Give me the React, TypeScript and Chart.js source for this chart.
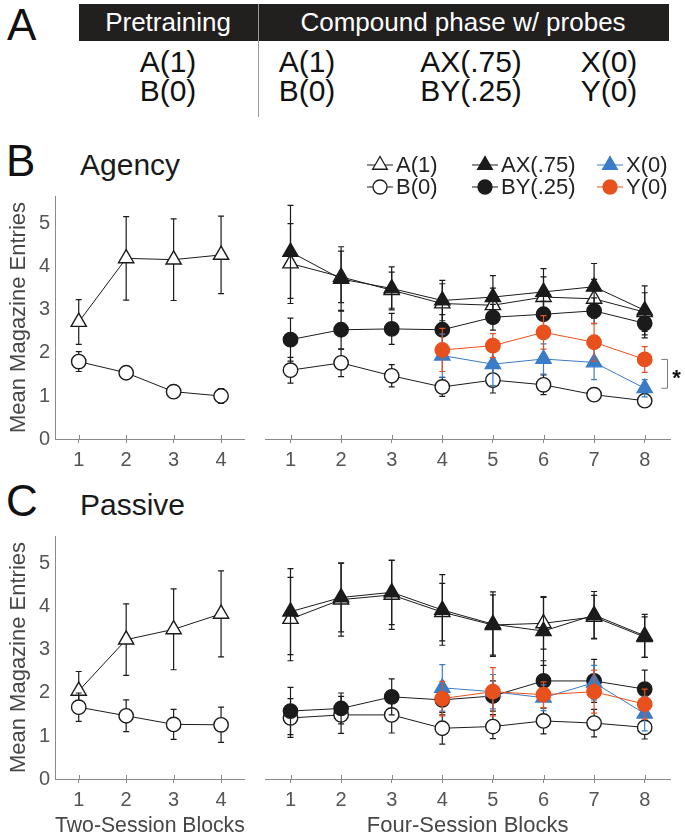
import React, { useEffect, useRef } from "react";
import { Chart, registerables } from "chart.js";

Chart.register(...registerables);

const FONT = "'Liberation Sans', Arial, Helvetica, sans-serif";
Chart.defaults.font.family = FONT;

// ---------------- data ----------------
const twoSessionBlocks = [1, 2, 3, 4];
const fourSessionBlocks = [1, 2, 3, 4, 5, 6, 7, 8];
const probeBlocks = [4, 5, 6, 7, 8];
const yTickValues = [0, 1, 2, 3, 4, 5];
const yAxisMax = 5.65;

// Agency - pretraining (two-session blocks)
const agencyPretrainA = [2.72, 4.2, 4.17, 4.28];
const agencyPretrainAErr = [0.52, 0.97, 0.95, 0.9];
const agencyPretrainB = [1.8, 1.54, 1.1, 1.0];
const agencyPretrainBErr = [0.23, 0.08, 0.08, 0.17];

// Agency - compound phase (four-session blocks)
const agencyA = [4.08, 3.77, 3.46, 3.15, 3.11, 3.3, 3.26, 2.95];
const agencyAErr = [0.93, 0.6, 0.42, 0.46, 0.4, 0.47, 0.45, 0.45];
const agencyAX = [4.35, 3.72, 3.5, 3.22, 3.3, 3.42, 3.54, 2.99];
const agencyAXErr = [1.08, 0.75, 0.5, 0.47, 0.5, 0.54, 0.54, 0.57];
const agencyB = [1.6, 1.77, 1.47, 1.21, 1.37, 1.26, 1.03, 0.89];
const agencyBErr = [0.3, 0.32, 0.26, 0.22, 0.3, 0.23, 0.15, 0.1];
const agencyBY = [2.31, 2.54, 2.56, 2.54, 2.83, 2.9, 2.98, 2.69];
const agencyBYErr = [0.5, 0.45, 0.36, 0.35, 0.3, 0.3, 0.3, 0.34];
const agencyX = [1.94, 1.74, 1.86, 1.78, 1.18];
const agencyXErr = [0.5, 0.5, 0.35, 0.4, 0.2];
const agencyY = [2.07, 2.17, 2.48, 2.25, 1.85];
const agencyYErr = [0.5, 0.28, 0.39, 0.44, 0.3];

// Passive - pretraining
const passivePretrainA = [2.05, 3.24, 3.48, 3.84];
const passivePretrainAErr = [0.45, 0.83, 0.94, 1.0];
const passivePretrainB = [1.67, 1.47, 1.27, 1.26];
const passivePretrainBErr = [0.33, 0.37, 0.35, 0.41];

// Passive - compound phase
const passiveA = [3.72, 4.17, 4.28, 3.88, 3.58, 3.62, 3.77, 3.3];
const passiveAErr = [0.97, 0.85, 0.8, 0.67, 0.7, 0.6, 0.5, 0.47];
const passiveAX = [3.89, 4.22, 4.34, 3.93, 3.6, 3.44, 3.81, 3.33];
const passiveAXErr = [1.0, 0.8, 0.75, 0.82, 0.75, 0.8, 0.55, 0.5];
const passiveB = [1.42, 1.49, 1.49, 1.18, 1.22, 1.35, 1.3, 1.2];
const passiveBErr = [0.45, 0.43, 0.42, 0.37, 0.28, 0.3, 0.32, 0.27];
const passiveBY = [1.58, 1.64, 1.91, 1.84, 1.93, 2.28, 2.28, 2.09];
const passiveBYErr = [0.55, 0.36, 0.42, 0.35, 0.35, 0.47, 0.5, 0.44];
const passiveX = [2.12, 2.03, 1.89, 2.24, 1.52];
const passiveXErr = [0.54, 0.4, 0.3, 0.4, 0.4];
const passiveY = [1.87, 2.03, 1.96, 2.03, 1.74];
const passiveYErr = [0.4, 0.56, 0.3, 0.5, 0.35];

const legendRows = [
  ["A(1)", "AX(.75)", "X(0)"],
  ["B(0)", "BY(.25)", "Y(0)"],
];

const tableHeaders = ["Pretraining", "Compound phase w/ probes"];
const tableRow1 = ["A(1)", "A(1)", "AX(.75)", "X(0)"];
const tableRow2 = ["B(0)", "B(0)", "BY(.25)", "Y(0)"];

// ---------------- styles ----------------
const BLACK = "#1b1b1b";
const BLUE = "#3a7cc7";
const ORANGE = "#e8501d";
const AXIS = "#8a8a8a";
const TICK = "#555555";
const TITLE = "#474747";

const seriesStyles: Record<string, any> = {
  "A(1)": { shape: "triangle", fill: "#ffffff", stroke: BLACK },
  "B(0)": { shape: "circle", fill: "#ffffff", stroke: BLACK },
  "AX(.75)": { shape: "triangle", fill: BLACK, stroke: BLACK },
  "BY(.25)": { shape: "circle", fill: BLACK, stroke: BLACK },
  "X(0)": { shape: "triangle", fill: BLUE, stroke: BLUE },
  "Y(0)": { shape: "circle", fill: ORANGE, stroke: ORANGE },
};

function series(label: string, xs: number[], ys: number[], errs: number[], drawIndex: number) {
  const s = seriesStyles[label];
  return {
    label,
    data: xs.map((x, i) => ({ x, y: ys[i] })),
    errors: errs,
    borderColor: s.stroke,
    backgroundColor: s.fill,
    borderWidth: 1,
    pointStyle: s.shape,
    pointRadius: s.shape === "triangle" ? 8.8 : 7.2,
    pointBackgroundColor: s.fill,
    pointBorderColor: s.stroke,
    pointBorderWidth: 1.4,
    tension: 0,
    order: 10 - drawIndex,
    clip: false,
  };
}

function drawMarker(ctx: CanvasRenderingContext2D, shape: string, x: number, y: number, r: number, fill: string, stroke: string) {
  ctx.beginPath();
  if (shape === "triangle") {
    ctx.moveTo(x, y - r);
    ctx.lineTo(x + r * 0.866, y + r / 2);
    ctx.lineTo(x - r * 0.866, y + r / 2);
    ctx.closePath();
  } else {
    ctx.arc(x, y, r, 0, Math.PI * 2);
  }
  ctx.fillStyle = fill;
  ctx.fill();
  ctx.lineWidth = 1.3;
  ctx.strokeStyle = stroke;
  ctx.stroke();
}

const errorBarPlugin = {
  id: "errorBars",
  beforeDatasetDraw(chart: any, args: any) {
    const ds = chart.data.datasets[args.index];
    if (!ds.errors) return;
    const yScale = chart.scales.y;
    const ctx = chart.ctx;
    ctx.save();
    ctx.strokeStyle = ds.borderColor;
    ctx.lineWidth = 1.2;
    args.meta.data.forEach((pt: any, i: number) => {
      const v = ds.data[i].y;
      const e = ds.errors[i];
      const top = yScale.getPixelForValue(v + e);
      const bot = yScale.getPixelForValue(v - e);
      const x = pt.x;
      ctx.beginPath();
      ctx.moveTo(x, top);
      ctx.lineTo(x, bot);
      ctx.moveTo(x - 3, top);
      ctx.lineTo(x + 3, top);
      ctx.moveTo(x - 3, bot);
      ctx.lineTo(x + 3, bot);
      ctx.stroke();
    });
    ctx.restore();
  },
};

const innerTickPlugin = {
  id: "innerTicks",
  beforeDatasetsDraw(chart: any) {
    const xs = chart.scales.x;
    const ctx = chart.ctx;
    ctx.save();
    ctx.strokeStyle = AXIS;
    ctx.lineWidth = 1;
    xs.ticks.forEach((t: any) => {
      const px = Math.round(xs.getPixelForValue(t.value)) + 0.5;
      ctx.beginPath();
      ctx.moveTo(px, xs.top);
      ctx.lineTo(px, xs.top - 4);
      ctx.stroke();
    });
    ctx.restore();
  },
};

function makeLegendPlugin(rows: string[][], colX: number[], rowY: number[]) {
  return {
    id: "rowLegend",
    afterDraw(chart: any) {
      const ctx = chart.ctx;
      ctx.save();
      rows.forEach((row, r) =>
        row.forEach((label, c) => {
          const ds = chart.data.datasets.find((d: any) => d.label === label);
          if (!ds) return;
          const x0 = colX[c];
          const y = rowY[r];
          const len = 26;
          ctx.strokeStyle = ds.borderColor;
          ctx.lineWidth = 1;
          ctx.beginPath();
          ctx.moveTo(x0, y);
          ctx.lineTo(x0 + len, y);
          ctx.stroke();
          drawMarker(ctx, ds.pointStyle, x0 + len / 2, y, ds.pointStyle === "triangle" ? 8.5 : 7, ds.pointBackgroundColor, ds.pointBorderColor);
          ctx.fillStyle = "#222222";
          ctx.font = `22px ${FONT}`;
          ctx.textBaseline = "middle";
          ctx.textAlign = "left";
          ctx.fillText(label, x0 + len + 3, y + 1);
        })
      );
      ctx.restore();
    },
  };
}

function makeBracketPlugin(upperLabel: string, lowerLabel: string) {
  return {
    id: "sigBracket",
    afterDatasetsDraw(chart: any) {
      const up = chart.data.datasets.find((d: any) => d.label === upperLabel);
      const lo = chart.data.datasets.find((d: any) => d.label === lowerLabel);
      if (!up || !lo) return;
      const xs = chart.scales.x;
      const ys = chart.scales.y;
      const pu = up.data[up.data.length - 1];
      const pl = lo.data[lo.data.length - 1];
      const x = Math.round(xs.getPixelForValue(pu.x) + 22) + 0.5;
      const y1 = ys.getPixelForValue(pu.y);
      const y2 = ys.getPixelForValue(pl.y);
      const ctx = chart.ctx;
      ctx.save();
      ctx.strokeStyle = "#777777";
      ctx.lineWidth = 1;
      ctx.beginPath();
      ctx.moveTo(x - 6, y1);
      ctx.lineTo(x, y1);
      ctx.lineTo(x, y2);
      ctx.lineTo(x - 6, y2);
      ctx.stroke();
      ctx.fillStyle = "#111111";
      ctx.font = `bold 22px ${FONT}`;
      ctx.textAlign = "center";
      ctx.textBaseline = "middle";
      ctx.fillText("*", x + 9, (y1 + y2) / 2 + 5);
      ctx.restore();
    },
  };
}

function makeConfig(opts: {
  datasets: any[];
  blocks: number[];
  isLeft: boolean;
  xTitle?: string;
  xAxisHeight: number;
  extraPlugins?: any[];
}) {
  const { datasets, blocks, isLeft, xTitle, xAxisHeight, extraPlugins = [] } = opts;
  return {
    type: "line",
    data: { datasets },
    options: {
      animation: false,
      responsive: false,
      devicePixelRatio: 1,
      events: [],
      layout: { padding: { top: 56, bottom: 0, left: isLeft ? 0 : 8, right: isLeft ? 5 : 15 } },
      plugins: { legend: { display: false }, tooltip: { enabled: false } },
      scales: {
        x: {
          type: "linear",
          min: 0.5,
          max: blocks.length + 0.5,
          afterBuildTicks: (s: any) => {
            s.ticks = blocks.map((v) => ({ value: v }));
          },
          afterFit: (s: any) => {
            s.height = xAxisHeight;
          },
          grid: { display: true, drawOnChartArea: false, drawTicks: true, tickLength: 4, color: AXIS, lineWidth: 1 },
          border: { display: true, color: AXIS, width: 1 },
          ticks: { font: { size: 20 }, color: TICK, padding: 5, autoSkip: false, maxRotation: 0, callback: (v: any) => String(v) },
          title: xTitle
            ? { display: true, text: xTitle, font: { size: 22 }, color: TITLE, padding: 0 }
            : { display: false },
        },
        y: {
          type: "linear",
          display: isLeft,
          min: 0,
          max: yAxisMax,
          afterBuildTicks: (s: any) => {
            s.ticks = yTickValues.map((v) => ({ value: v }));
          },
          afterFit: (s: any) => {
            s.width = isLeft ? 55 : 0;
          },
          grid: { display: false, drawTicks: false },
          border: { display: true, color: AXIS, width: 1 },
          ticks: { font: { size: 20 }, color: TICK, padding: 5 },
          title: { display: isLeft, text: "Mean Magazine Entries", font: { size: 22 }, color: TITLE, padding: { top: 6, bottom: 0 } },
        },
      },
    },
    plugins: [errorBarPlugin, innerTickPlugin, ...extraPlugins],
  };
}

function ChartCanvas(props: { left: number; top: number; width: number; height: number; build: () => any }) {
  const ref = useRef<HTMLCanvasElement | null>(null);
  useEffect(() => {
    if (!ref.current) return;
    const chart = new Chart(ref.current, props.build());
    return () => chart.destroy();
  }, []);
  return (
    <canvas
      ref={ref}
      width={props.width}
      height={props.height}
      style={{ position: "absolute", left: props.left, top: props.top, width: props.width, height: props.height }}
    />
  );
}

function Txt(props: { x: number; base: number; size: number; align?: "left" | "center"; color?: string; weight?: string; children: any }) {
  const { x, base, size, align = "left", color = "#111", weight = "normal" } = props;
  return (
    <div
      style={{
        position: "absolute",
        left: x,
        top: base - 0.847 * size,
        fontSize: size,
        lineHeight: 1,
        fontFamily: FONT,
        color,
        fontWeight: weight as any,
        whiteSpace: "nowrap",
        transform: align === "center" ? "translateX(-50%)" : undefined,
      }}
    >
      {props.children}
    </div>
  );
}

const tableCols = [168, 307, 471, 609];

export default function App() {
  const legendPlugin = makeLegendPlugin(legendRows, [112, 217, 342], [25, 47]);
  const bracketPlugin = makeBracketPlugin("Y(0)", "X(0)");

  return (
    <div style={{ position: "absolute", left: 0, top: 0, width: 685, height: 840, background: "#fff", overflow: "hidden", fontFamily: FONT }}>
      {/* Panel A table */}
      <Txt x={7} base={40} size={44}>A</Txt>
      <div style={{ position: "absolute", left: 79, top: 4, width: 590, height: 37, background: "#221f1f" }} />
      <div style={{ position: "absolute", left: 258, top: 4, width: 1, height: 113, background: "#9a9a9a" }} />
      <Txt x={168} base={31} size={26} align="center" color="#ffffff">{tableHeaders[0]}</Txt>
      <Txt x={463} base={31} size={26} align="center" color="#ffffff">{tableHeaders[1]}</Txt>
      {tableRow1.map((t, i) => (
        <Txt key={"r1" + i} x={tableCols[i]} base={72} size={30} align="center">{t}</Txt>
      ))}
      {tableRow2.map((t, i) => (
        <Txt key={"r2" + i} x={tableCols[i]} base={101} size={30} align="center">{t}</Txt>
      ))}

      {/* Panel labels */}
      <Txt x={6} base={176} size={44}>B</Txt>
      <Txt x={80} base={175} size={30} color="#1a1a1a">Agency</Txt>
      <Txt x={6} base={516} size={44}>C</Txt>
      <Txt x={80} base={515} size={30} color="#1a1a1a">Passive</Txt>

      <ChartCanvas
        left={0}
        top={140}
        width={255}
        height={339}
        build={() =>
          makeConfig({
            isLeft: true,
            blocks: twoSessionBlocks,
            xAxisHeight: 40,
            datasets: [
              series("A(1)", twoSessionBlocks, agencyPretrainA, agencyPretrainAErr, 0),
              series("B(0)", twoSessionBlocks, agencyPretrainB, agencyPretrainBErr, 1),
            ],
          })
        }
      />
      <ChartCanvas
        left={255}
        top={140}
        width={430}
        height={339}
        build={() =>
          makeConfig({
            isLeft: false,
            blocks: fourSessionBlocks,
            xAxisHeight: 40,
            extraPlugins: [legendPlugin, bracketPlugin],
            datasets: [
              series("A(1)", fourSessionBlocks, agencyA, agencyAErr, 0),
              series("B(0)", fourSessionBlocks, agencyB, agencyBErr, 1),
              series("AX(.75)", fourSessionBlocks, agencyAX, agencyAXErr, 2),
              series("BY(.25)", fourSessionBlocks, agencyBY, agencyBYErr, 3),
              series("X(0)", probeBlocks, agencyX, agencyXErr, 4),
              series("Y(0)", probeBlocks, agencyY, agencyYErr, 5),
            ],
          })
        }
      />
      <ChartCanvas
        left={0}
        top={480}
        width={255}
        height={359}
        build={() =>
          makeConfig({
            isLeft: true,
            blocks: twoSessionBlocks,
            xAxisHeight: 60,
            xTitle: "Two-Session Blocks",
            datasets: [
              series("A(1)", twoSessionBlocks, passivePretrainA, passivePretrainAErr, 0),
              series("B(0)", twoSessionBlocks, passivePretrainB, passivePretrainBErr, 1),
            ],
          })
        }
      />
      <ChartCanvas
        left={255}
        top={480}
        width={430}
        height={359}
        build={() =>
          makeConfig({
            isLeft: false,
            blocks: fourSessionBlocks,
            xAxisHeight: 60,
            xTitle: "Four-Session Blocks",
            datasets: [
              series("A(1)", fourSessionBlocks, passiveA, passiveAErr, 0),
              series("B(0)", fourSessionBlocks, passiveB, passiveBErr, 1),
              series("AX(.75)", fourSessionBlocks, passiveAX, passiveAXErr, 2),
              series("BY(.25)", fourSessionBlocks, passiveBY, passiveBYErr, 3),
              series("X(0)", probeBlocks, passiveX, passiveXErr, 4),
              series("Y(0)", probeBlocks, passiveY, passiveYErr, 5),
            ],
          })
        }
      />
    </div>
  );
}
